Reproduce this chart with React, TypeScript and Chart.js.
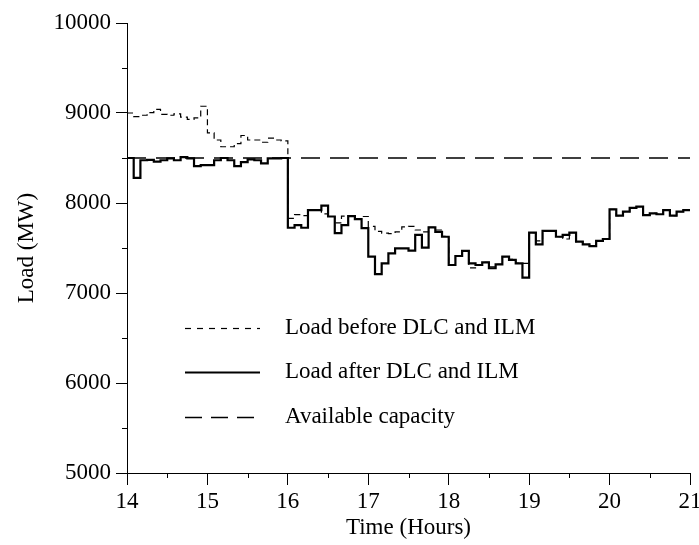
import React, { useEffect, useRef } from "react";
import { Chart, registerables } from "chart.js";

Chart.register(...registerables);

// Five-minute load profile from 14:00 to 21:00 (MW), one value per interval.
const startHour = 14;
const endHour = 21;
const intervalsPerHour = 12;

const loadBefore = [
  // 14:00
  9000, 8960, 8975, 9005, 9040, 8985, 8975, 8990, 8955, 8930, 8945, 9075,
  // 15:00
  8780, 8700, 8625, 8625, 8660, 8750, 8700, 8700, 8675, 8720, 8700, 8690,
  // 16:00
  7830, 7870, 7860, 7920, 7920, 7880, 7850, 7780, 7855, 7855, 7820, 7850,
  // 17:00
  7740, 7685, 7665, 7660, 7680, 7735, 7740, 7700, 7680, 7730, 7700, 7630,
  // 18:00
  7311, 7411, 7467, 7280, 7311, 7341, 7290, 7318, 7404, 7375, 7330, 7330,
  // 19:00
  7670, 7580, 7690, 7690, 7625, 7600, 7670, 7570, 7540, 7520, 7580, 7600,
  // 20:00
  7930, 7860, 7905, 7945, 7960, 7865, 7885, 7875, 7920, 7860, 7905, 7920,
];

const loadAfter = [
  // 14:00
  8500, 8280, 8475, 8480, 8460, 8475, 8495, 8475, 8510, 8495, 8410, 8420,
  // 15:00
  8420, 8475, 8500, 8475, 8410, 8455, 8485, 8475, 8440, 8495, 8495, 8500,
  // 16:00
  7725, 7755, 7725, 7920, 7920, 7970, 7850, 7665, 7755, 7855, 7820, 7720,
  // 17:00
  7405, 7210, 7330, 7440, 7495, 7495, 7470, 7645, 7505, 7730, 7680, 7625,
  // 18:00
  7311, 7411, 7467, 7330, 7311, 7341, 7275, 7318, 7404, 7367, 7330, 7171,
  // 19:00
  7670, 7540, 7690, 7690, 7625, 7645, 7670, 7570, 7540, 7520, 7580, 7600,
  // 20:00
  7930, 7860, 7905, 7945, 7960, 7865, 7885, 7875, 7920, 7860, 7905, 7920,
];

const availableCapacity = 8500;

const seriesNames = [
  "Load before DLC and ILM",
  "Load after DLC and ILM",
  "Available capacity",
];

const yTicks = [5000, 6000, 7000, 8000, 9000, 10000];
const yMinorTicks = [5500, 6500, 7500, 8500, 9500];
const xTicks = [14, 15, 16, 17, 18, 19, 20, 21];
const xMinorTicks = [14.5, 15.5, 16.5, 17.5, 18.5, 19.5, 20.5];

const FONT = "'Liberation Serif', 'Times New Roman', serif";
const FONT_SIZE = 23;

// Turn per-interval values into step points: each value holds until the next interval.
function toSteps(values: number[]) {
  const pts = values.map((v, i) => ({ x: startHour + i / intervalsPerHour, y: v }));
  pts.push({ x: endHour, y: values[values.length - 1] });
  return pts;
}

const styles = [
  { dash: [6, 4], legendDash: [6, 6], width: 1.2, color: "#000" },
  { dash: [], legendDash: [], width: 2.2, color: "#000" },
  { dash: [19, 10], legendDash: [17, 9], width: 1.3, color: "#000" },
];

const decorPlugin = {
  id: "decor",
  afterDraw(chart: any) {
    const { ctx, chartArea, scales } = chart;
    const xs = scales.x;
    const ys = scales.y;
    ctx.save();
    ctx.strokeStyle = "#000";
    ctx.lineWidth = 1;
    ctx.setLineDash([]);
    // minor tick marks
    for (const v of yMinorTicks) {
      const py = Math.round(ys.getPixelForValue(v)) + 0.5;
      ctx.beginPath();
      ctx.moveTo(chartArea.left - 5, py);
      ctx.lineTo(chartArea.left, py);
      ctx.stroke();
    }
    for (const v of xMinorTicks) {
      const px = Math.round(xs.getPixelForValue(v)) + 0.5;
      ctx.beginPath();
      ctx.moveTo(px, chartArea.bottom);
      ctx.lineTo(px, chartArea.bottom + 5);
      ctx.stroke();
    }
    // legend block inside the plot area
    const lineX0 = chartArea.left + 58;
    const lineX1 = chartArea.left + 133;
    const textX = chartArea.left + 158;
    const rows = [chartArea.top + 305, chartArea.top + 349, chartArea.top + 394];
    ctx.font = `${FONT_SIZE}px ${FONT}`;
    ctx.fillStyle = "#000";
    ctx.textBaseline = "middle";
    ctx.textAlign = "left";
    seriesNames.forEach((name, i) => {
      const s = styles[i];
      ctx.strokeStyle = s.color;
      ctx.lineWidth = s.width;
      ctx.setLineDash(s.legendDash);
      ctx.beginPath();
      ctx.moveTo(lineX0, rows[i] + 0.5);
      ctx.lineTo(lineX1, rows[i] + 0.5);
      ctx.stroke();
      ctx.fillText(name, textX, rows[i]);
    });
    ctx.restore();
  },
};

export default function App() {
  const canvasRef = useRef<HTMLCanvasElement | null>(null);

  useEffect(() => {
    const canvas = canvasRef.current;
    if (!canvas) return;
    const tickFont = { family: FONT, size: FONT_SIZE };

    const chart = new Chart(canvas, {
      type: "line",
      data: {
        datasets: [
          {
            label: seriesNames[1],
            data: toSteps(loadAfter),
            stepped: "before",
            borderColor: styles[1].color,
            borderWidth: styles[1].width,
            borderDash: styles[1].dash,
            pointRadius: 0,
            fill: false,
            borderJoinStyle: "miter",
          },
          {
            label: seriesNames[0],
            data: toSteps(loadBefore),
            stepped: "before",
            borderColor: styles[0].color,
            borderWidth: styles[0].width,
            borderDash: styles[0].dash,
            pointRadius: 0,
            fill: false,
          },
          {
            label: seriesNames[2],
            data: [
              { x: startHour, y: availableCapacity },
              { x: endHour, y: availableCapacity },
            ],
            borderColor: styles[2].color,
            borderWidth: styles[2].width,
            borderDash: styles[2].dash,
            pointRadius: 0,
            fill: false,
          },
        ],
      },
      options: {
        animation: false,
        responsive: false,
        devicePixelRatio: 1,
        layout: { padding: { top: 23, right: 9, left: 0, bottom: 0 } },
        plugins: {
          legend: { display: false },
          tooltip: { enabled: false },
        },
        scales: {
          x: {
            type: "linear",
            min: startHour,
            max: endHour,
            afterBuildTicks: (scale: any) => {
              scale.ticks = xTicks.map((v) => ({ value: v }));
            },
            afterFit: (scale: any) => {
              scale.height = 72;
              scale.paddingLeft = 0;
              scale.paddingRight = 0;
            },
            ticks: {
              font: tickFont,
              color: "#000",
              padding: 3,
              maxRotation: 0,
              autoSkip: false,
              callback: (v: any) => String(v),
            },
            grid: {
              display: true,
              drawOnChartArea: false,
              drawTicks: true,
              tickLength: 12,
              color: "#000",
              lineWidth: 1,
            },
            border: { display: true, color: "#000", width: 1 },
            title: {
              display: true,
              text: "Time (Hours)",
              font: tickFont,
              color: "#000",
              padding: { top: 0, bottom: 3 },
            },
          },
          y: {
            type: "linear",
            min: 5000,
            max: 10000,
            afterBuildTicks: (scale: any) => {
              scale.ticks = yTicks.map((v) => ({ value: v }));
            },
            afterFit: (scale: any) => {
              scale.width = 127;
              scale.paddingTop = 0;
              scale.paddingBottom = 0;
            },
            ticks: {
              font: tickFont,
              color: "#000",
              padding: 5,
              autoSkip: false,
              callback: (v: any) => String(v),
            },
            grid: {
              display: true,
              drawOnChartArea: false,
              drawTicks: true,
              tickLength: 11,
              color: "#000",
              lineWidth: 1,
            },
            border: { display: true, color: "#000", width: 1 },
            title: {
              display: true,
              text: "Load (MW)",
              font: tickFont,
              color: "#000",
              padding: { top: 13, bottom: 0 },
            },
          },
        },
      },
      plugins: [decorPlugin],
    } as any);

    return () => chart.destroy();
  }, []);

  return (
    <div
      style={{
        position: "fixed",
        left: 0,
        top: 0,
        width: 699,
        height: 545,
        background: "#fff",
      }}
    >
      <canvas ref={canvasRef} width={699} height={545} />
    </div>
  );
}
